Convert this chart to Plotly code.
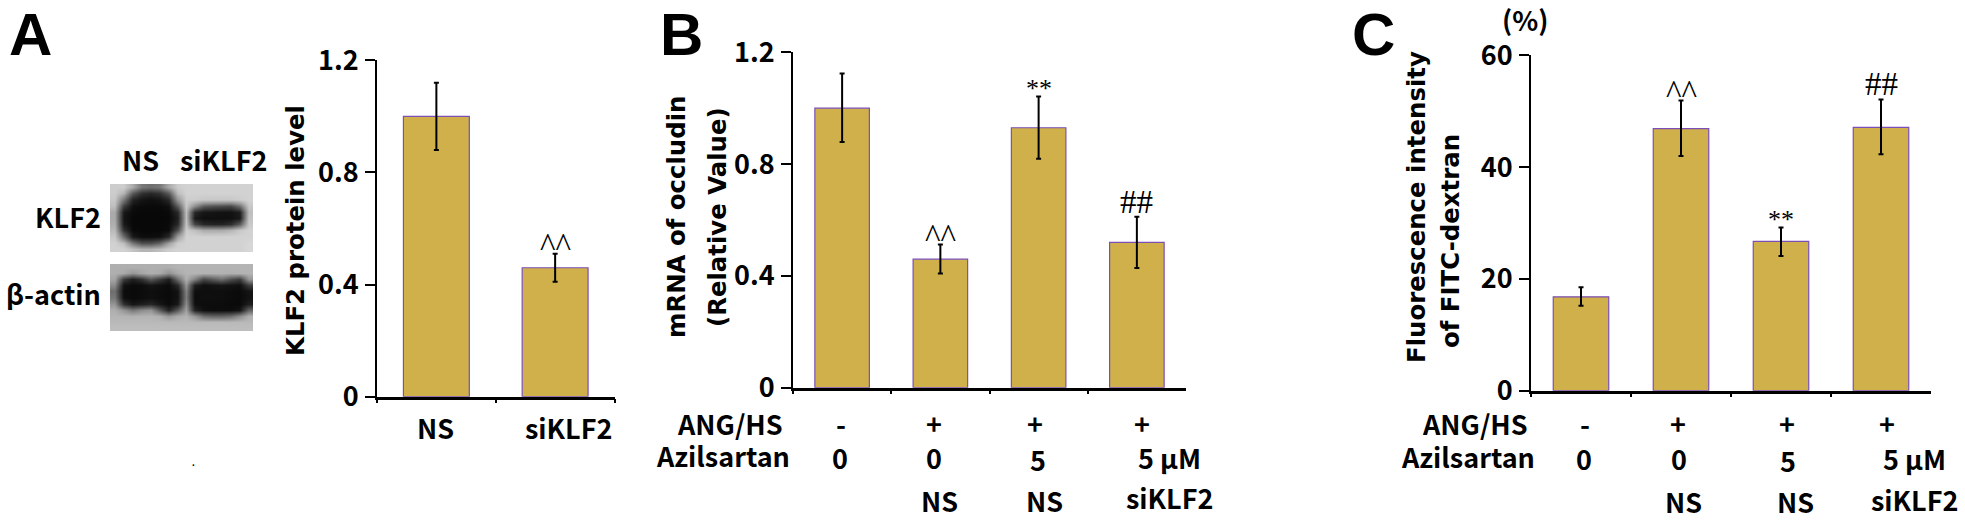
import plotly.graph_objects as go

W, H = 1965, 520
LABEL_FONT = "Noto Sans CJK KR"
TITLE_FONT = "DejaVu Sans"
SERIF = "Liberation Serif"
BAR_FILL = "#CFB04B"
BAR_EDGE = "#7B4FB5"

# ---------- data ----------
a_cats = ["NS", "siKLF2"]
a_vals = [1.0, 0.46]
a_hi = [1.12, 0.51]
a_lo = [0.88, 0.41]
a_marks = ["", "^^"]
a_ticks = [0, 0.4, 0.8, 1.2]

groups = ["control", "ANG/HS", "Azilsartan", "Azilsartan+siKLF2"]
b_vals = [1.0, 0.46, 0.93, 0.52]
b_hi = [1.124, 0.512, 1.042, 0.612]
b_lo = [0.879, 0.409, 0.819, 0.428]
b_marks = ["", "^^", "**", "##"]
b_ticks = [0, 0.4, 0.8, 1.2]

c_vals = [16.8, 46.9, 26.7, 47.1]
c_hi = [18.5, 51.9, 29.2, 52.1]
c_lo = [15.2, 42.0, 24.1, 42.3]
c_marks = ["", "^^", "**", "##"]
c_ticks = [0, 20, 40, 60]

klf2_blot = [
    [205, 205, 170, 120, 110, 120, 170, 205, 210, 210, 210, 210, 210, 210, 210, 210],
    [205, 180, 90, 50, 40, 50, 90, 190, 210, 210, 210, 210, 210, 210, 210, 210],
    [200, 120, 35, 20, 15, 20, 40, 150, 205, 205, 200, 200, 200, 200, 205, 210],
    [190, 60, 15, 10, 10, 10, 15, 90, 200, 140, 90, 80, 75, 70, 110, 200],
    [170, 25, 10, 8, 8, 8, 10, 40, 190, 40, 22, 20, 18, 18, 30, 190],
    [170, 20, 8, 8, 8, 8, 8, 30, 190, 25, 15, 15, 15, 15, 25, 195],
    [175, 25, 8, 8, 8, 8, 10, 40, 195, 70, 40, 35, 35, 45, 90, 200],
    [185, 50, 10, 8, 8, 8, 12, 80, 205, 190, 170, 170, 170, 180, 200, 210],
    [200, 110, 25, 12, 12, 15, 40, 160, 210, 210, 210, 210, 210, 210, 210, 210],
    [210, 190, 120, 80, 80, 100, 160, 205, 210, 210, 210, 210, 210, 210, 210, 215],
    [210, 210, 195, 180, 180, 190, 205, 210, 210, 210, 210, 210, 210, 210, 210, 215],
]
actin_blot = [
    [175, 175, 175, 175, 175, 175, 175, 180, 180, 180, 180, 180, 180, 180, 180, 180],
    [175, 170, 150, 165, 175, 170, 145, 170, 180, 180, 178, 178, 178, 175, 178, 180],
    [165, 60, 30, 50, 90, 60, 30, 110, 175, 130, 70, 90, 110, 80, 60, 150],
    [140, 18, 10, 12, 20, 15, 10, 40, 150, 30, 15, 18, 22, 18, 15, 60],
    [110, 12, 10, 12, 15, 12, 10, 18, 130, 14, 14, 14, 14, 12, 10, 20],
    [120, 14, 10, 12, 15, 12, 10, 18, 125, 12, 15, 15, 14, 12, 10, 18],
    [150, 50, 22, 30, 40, 22, 10, 25, 140, 15, 12, 12, 12, 10, 10, 30],
    [175, 150, 120, 140, 150, 90, 35, 90, 160, 35, 15, 12, 12, 12, 20, 100],
    [180, 180, 178, 180, 180, 175, 150, 170, 178, 150, 110, 100, 100, 110, 140, 175],
    [185, 185, 185, 185, 185, 185, 185, 185, 185, 185, 185, 185, 185, 185, 185, 185],
    [190, 190, 190, 190, 190, 190, 190, 190, 190, 190, 190, 190, 190, 190, 190, 190],
]

# ---------- layout helpers ----------
def px(x):
    return x / W

def py(y):
    return 1 - y / H

fig = go.Figure()
annotations = []

def text(s, x, y, size=27, family=LABEL_FONT, bold=True, xanchor="center", angle=0):
    annotations.append(dict(
        text=f"<b>{s}</b>" if bold else s, x=px(x), y=py(y), xref="paper", yref="paper",
        xanchor=xanchor, yanchor="middle", showarrow=False, textangle=angle,
        font=dict(family=family, size=size, color="black"),
    ))

def panel(idx, cats, vals, hi, lo, marks, ticks, x0, x1, ytop, ybot, mark_gap):
    suffix = "" if idx == 1 else str(idx)
    fig.add_trace(go.Bar(
        x=cats, y=vals, width=0.555, xaxis=f"x{suffix}", yaxis=f"y{suffix}",
        marker=dict(color=BAR_FILL, line=dict(color=BAR_EDGE, width=1.2)),
        error_y=dict(type="data", symmetric=False,
                     array=[h - v for h, v in zip(hi, vals)],
                     arrayminus=[v - l for l, v in zip(lo, vals)],
                     color="black", thickness=2, width=2.5),
    ))
    fig.layout[f"xaxis{suffix}"] = dict(
        domain=[px(x0), px(x1)], type="category", range=[-0.5, len(cats) - 0.5],
        categoryorder="array", categoryarray=cats, automargin=False,
        tickson="boundaries", ticks="outside", ticklen=4, tickwidth=2, tickcolor="black",
        showticklabels=False, showline=True, linecolor="black", linewidth=2.5,
        showgrid=False, zeroline=False, anchor=f"y{suffix}", fixedrange=True,
    )
    fig.layout[f"yaxis{suffix}"] = dict(
        domain=[py(ybot), py(ytop)], range=[0, ticks[-1]], tickvals=ticks,
        ticktext=[str(t) for t in ticks], automargin=False,
        ticks="outside", ticklen=10, tickwidth=2, tickcolor="black",
        showline=True, linecolor="black", linewidth=2, showgrid=False, zeroline=False,
        tickfont=dict(family=LABEL_FONT, size=27, color="black", weight="bold"),
        ticklabelstandoff=1,
        anchor=f"x{suffix}", fixedrange=True,
    )
    for c, h, m in zip(cats, hi, marks):
        if m:
            annotations.append(dict(
                text=m, x=c, y=h, xref=f"x{suffix}", yref=f"y{suffix}",
                yanchor="middle", yshift=mark_gap[m], showarrow=False,
                font=dict(family=SERIF, size=mark_gap["size_" + m], color="black"),
            ))

gaps = {"^^": 9, "**": 8, "##": 15, "size_^^": 33, "size_**": 26, "size_##": 33}

panel(1, a_cats, a_vals, a_hi, a_lo, a_marks, a_ticks, 377, 614.5, 60.3, 396.7, gaps)
panel(2, groups, b_vals, b_hi, b_lo, b_marks, b_ticks, 793, 1186, 52.3, 387.7, gaps)
panel(3, groups, c_vals, c_hi, c_lo, c_marks, c_ticks, 1531, 1931, 55.3, 390.7, gaps)

# ---------- blots ----------
def blot(idx, z, x0, x1, ytop, ybot):
    fig.add_trace(go.Heatmap(
        z=z, xaxis=f"x{idx}", yaxis=f"y{idx}", zmin=0, zmax=255, zsmooth="best",
        colorscale=[[0, "black"], [1, "white"]], showscale=False,
    ))
    fig.layout[f"xaxis{idx}"] = dict(domain=[px(x0), px(x1)], visible=False, anchor=f"y{idx}",
                                     fixedrange=True, automargin=False)
    fig.layout[f"yaxis{idx}"] = dict(domain=[py(ybot), py(ytop)], visible=False, autorange="reversed",
                                     anchor=f"x{idx}", fixedrange=True, automargin=False)

blot(4, klf2_blot, 110, 253, 184, 252)
blot(5, actin_blot, 110, 253, 264, 331)

# ---------- panel letters ----------
for s, x in [("A", 30), ("B", 681), ("C", 1373)]:
    text(s, x, 35, size=60, family="Liberation Sans")

# ---------- panel A text ----------
text("NS", 140.6, 159)
text("siKLF2", 223, 159)
text("KLF2", 103, 216, xanchor="right")
text("β-actin", 103, 293, xanchor="right")
text("KLF2 protein level", 295, 231, size=24.4, family=TITLE_FONT, angle=-90)
text("NS", 435, 427)
text("siKLF2", 568, 427)
text(".", 193, 462, size=10, family="Liberation Sans")

# ---------- panel B text ----------
text("mRNA of occludin", 676, 217, size=24.4, family=TITLE_FONT, angle=-90)
text("(Relative Value)", 717, 217, size=24.4, family=TITLE_FONT, angle=-90)
text("ANG/HS", 730, 423)
text("Azilsartan", 723, 455)
for s, x in [("-", 841), ("+", 934), ("+", 1035), ("+", 1142)]:
    text(s, x, 423)
for s, x, y in [("0", 840, 457), ("0", 934, 457), ("5", 1038, 459), ("5 µM", 1169, 457),
                ("NS", 939, 500), ("NS", 1044, 500), ("siKLF2", 1169, 497)]:
    text(s, x, y)

# ---------- panel C text ----------
text("(%)", 1525, 20)
text("Fluorescence intensity", 1417, 207, size=24.4, family=TITLE_FONT, angle=-90)
text("of FITC-dextran", 1450, 241, size=24.4, family=TITLE_FONT, angle=-90)
text("ANG/HS", 1475, 423)
text("Azilsartan", 1468, 456)
for s, x in [("-", 1585), ("+", 1678), ("+", 1787), ("+", 1887)]:
    text(s, x, 423)
for s, x, y in [("0", 1584, 458), ("0", 1679, 458), ("5", 1788, 460), ("5 µM", 1914, 458),
                ("NS", 1683, 501), ("NS", 1795, 501), ("siKLF2", 1914, 499)]:
    text(s, x, y)

fig.update_layout(
    width=W, height=H, margin=dict(l=0, r=0, t=0, b=0), paper_bgcolor="white",
    plot_bgcolor="white", showlegend=False, annotations=annotations,
)
fig.write_html("out.html", config={"displayModeBar": False},
               post_script="document.body.style.margin='0';document.body.style.overflow='hidden';")
